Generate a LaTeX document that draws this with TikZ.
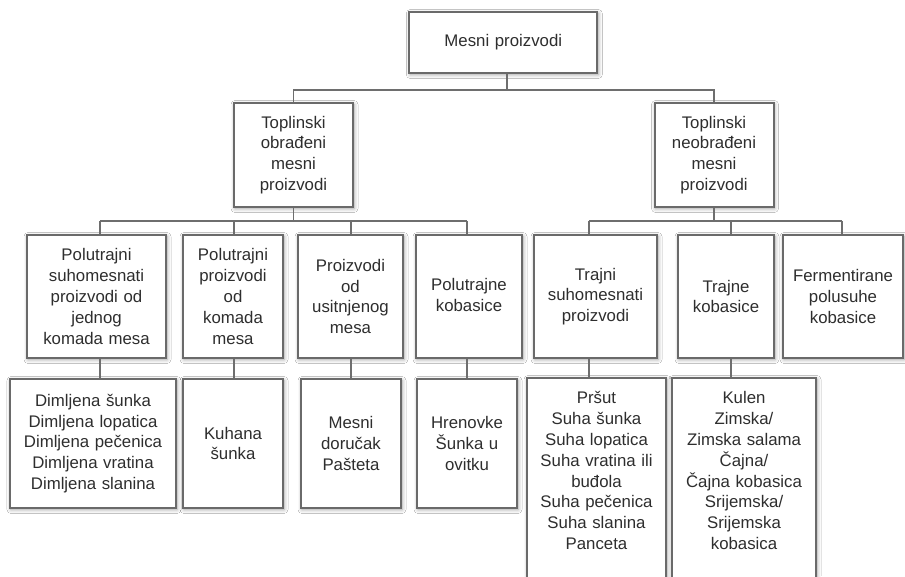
\documentclass[tikz,border=0pt]{standalone}
\usepackage{fontspec}
\setmainfont{Liberation Sans}
\usetikzlibrary{shadows.blur}
\definecolor{boxline}{HTML}{6A6A6A}
\definecolor{connline}{HTML}{6E6E6E}
\definecolor{txtcol}{HTML}{2E2E2E}
\tikzset{
  box/.style={draw=boxline, line width=2pt, fill=white, rectangle, inner sep=0pt,
    align=center, text=txtcol,
    font=\fontsize{16.8}{20.8}\selectfont,
    blur shadow={shadow xshift=1pt, shadow yshift=-1.5pt, shadow blur radius=4pt, shadow opacity=40}},
  txt/.style={inner sep=0pt, align=center, text=txtcol,
    font=\fontsize{16.8}{20.8}\selectfont},
  conn/.style={draw=connline, line width=1.4pt}
}
\begin{document}
\begin{tikzpicture}[x=1pt, y=-1pt]
\useasboundingbox (0,0) rectangle (905,576);
\clip (0,0) rectangle (905,576);
\fill[white] (0,0) rectangle (905,576);

% branch coordinates
\coordinate (b0) at (507,90);
\coordinate (b1) at (0,221);
\coordinate (xa) at (100,0);
\coordinate (xb) at (234,0);
\coordinate (xc) at (351,0);
\coordinate (xd) at (467,0);
\coordinate (xe) at (589,0);
\coordinate (xf) at (731,0);
\coordinate (xg) at (842,0);

% root
\node[box, minimum width=188pt, minimum height=61pt, text width=180pt] (root) at (503.3,42.5) {Mesni proizvodi};

% level 1
\node[box, minimum width=119pt, minimum height=104pt, text width=110pt] (L1a) at (293.5,155) {Toplinski\\obrađeni\\mesni\\proizvodi};
\node[box, minimum width=119pt, minimum height=104pt, text width=110pt] (L1b) at (714,155) {Toplinski\\neobrađeni\\mesni\\proizvodi};

% level 2
\node[box, minimum width=139pt, minimum height=123pt, text width=132pt] (L2a) at (96.5,296.5) {Polutrajni\\suhomesnati\\proizvodi od\\jednog\\komada mesa};
\node[box, minimum width=100pt, minimum height=123pt, text width=94pt] (L2b) at (233,296.5) {Polutrajni\\proizvodi\\od\\komada\\mesa};
\node[box, minimum width=105pt, minimum height=123pt, text width=98pt] (L2c) at (350.5,296.5) {Proizvodi\\od\\usitnjenog\\mesa};
\node[box, minimum width=106pt, minimum height=123pt, text width=98pt] (L2d) at (469,296.5) {Polutrajne\\kobasice\vphantom{g}\\[4pt]};
\node[box, minimum width=123pt, minimum height=123pt, text width=116pt] (L2e) at (595.5,296.5) {Trajni\\suhomesnati\\proizvodi\\[4pt]};
\node[box, minimum width=96pt, minimum height=123pt, text width=90pt] (L2f) at (726,296.5) {Trajne\\kobasice\\[4pt]};
\node[box, minimum width=120pt, minimum height=123pt, text width=116pt] (L2g) at (843,296.5) {Fermentirane\\polusuhe\\kobasice\\[4pt]};

% level 3
\node[box, minimum width=166pt, minimum height=129pt, text width=160pt] (L3a) at (93,443.5) {Dimljena šunka\\Dimljena lopatica\\Dimljena pečenica\\Dimljena vratina\\Dimljena slanina\\[4pt]};
\node[box, minimum width=100pt, minimum height=129pt, text width=94pt] (L3b) at (233,443.5) {Kuhana\\šunka\\[8pt]};
\node[box, minimum width=100pt, minimum height=129pt, text width=94pt] (L3c) at (351,443.5) {Mesni\\doručak\\Pašteta\\[8pt]};
\node[box, minimum width=100pt, minimum height=129pt, text width=94pt] (L3d) at (467,443.5) {Hrenovke\\Šunka u\\ovitku\\[8pt]};
\node[box, minimum width=139pt, minimum height=262pt] (L3e) at (596.5,509) {};
\node[box, minimum width=144pt, minimum height=262pt] (L3f) at (744,509) {};
\node[txt, anchor=north, text width=136pt] (T3e) at (596.5,391.5) {Pršut\\Suha šunka\\Suha lopatica\\Suha vratina ili\\buđola\\Suha pečenica\\Suha slanina\\Panceta};
\node[txt, anchor=north, text width=140pt] (T3f) at (744,391.5) {Kulen\\Zimska/\\Zimska salama\\Čajna/\\Čajna kobasica\\Srijemska/\\Srijemska\\kobasica};

% connectors
\draw[conn] (root.south -| b0) -- (b0);
\draw[conn] (L1a.north) -- (L1a.north |- b0) -- (L1b.north |- b0) -- (L1b.north);

\draw[conn] (L1a.south) -- (L1a.south |- b1);
\draw[conn] (xa |- b1) -- (xd |- b1);
\draw[conn] (L1b.south) -- (L1b.south |- b1);
\draw[conn] (xe |- b1) -- (xg |- b1);

\foreach \n/\xx in {a/xa, b/xb, c/xc, d/xd, e/xe, f/xf, g/xg}{
  \draw[conn] (\xx |- b1) -- (L2\n.north -| \xx);
}
\foreach \n/\xx in {a/xa, b/xb, c/xc, d/xd, e/xe, f/xf}{
  \draw[conn] (L2\n.south -| \xx) -- (L3\n.north -| \xx);
}
\end{tikzpicture}
\end{document}
